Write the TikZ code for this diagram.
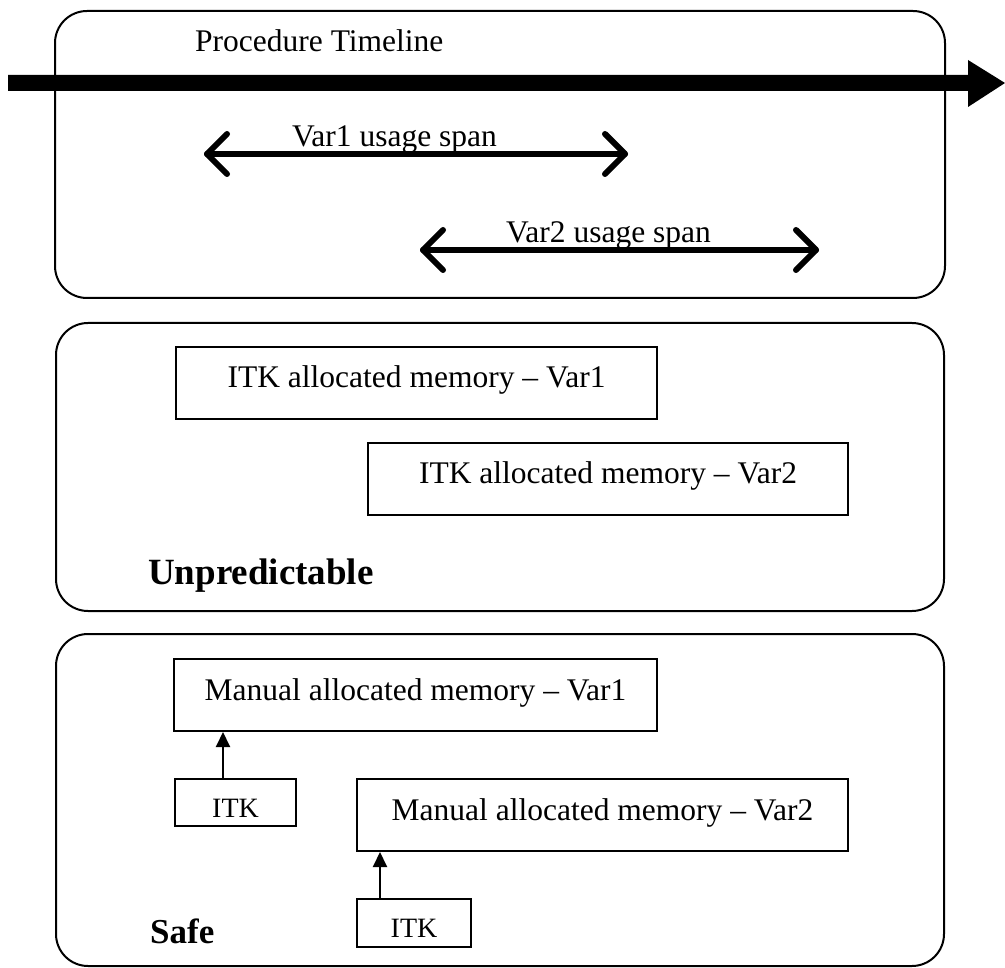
\documentclass[tikz,border=0pt]{standalone}
\usepackage{fontspec}
\setmainfont{Liberation Serif}
\usetikzlibrary{arrows.meta,calc}
\begin{document}
\begin{tikzpicture}[x=1pt,y=-1pt,
 container/.style={draw, line width=2pt, rounded corners=32pt, inner sep=0pt},
 membox/.style={draw, line width=2pt, inner sep=0pt, font=\fontsize{31.5}{36}\selectfont, text height=22pt, text depth=12pt},
 itkbox/.style={draw, line width=2pt, inner sep=0pt, font=\fontsize{28}{32}\selectfont, text height=29pt, text depth=0pt},
 lbl/.style={inner sep=0pt, anchor=base west, font=\fontsize{31.5}{36}\selectfont},
 biglbl/.style={inner sep=0pt, anchor=base west, font=\fontsize{37}{42}\selectfont\bfseries},
 spanline/.style={line width=6pt, line cap=round, line join=round},
 uparrow/.style={line width=2pt, -{Triangle[length=15pt,width=14pt]}},
]
\useasboundingbox (0,0) rectangle (1005,968);
\fill[white] (0,0) rectangle (1005,968);

% containers
\node[container, minimum width=890pt, minimum height=287pt] (topbox) at (500,154.5) {};
\node[container, minimum width=888pt, minimum height=288pt] (midbox) at (500,467) {};
\node[container, minimum width=888pt, minimum height=332pt] (botbox) at (500,800) {};

% timeline
\coordinate (tl0) at (8,83);
\coordinate (tl1) at (1005,83);
\fill (tl0) ++(0,-8) -- (968,75) -- (968,60) -- (tl1) -- (968,107) -- (968,91) -- ($(tl0)+(0,8)$) -- cycle;
\node[lbl] (proc) at (195,52) {Procedure Timeline};

% usage spans
\coordinate (v1l) at (207,154);
\coordinate (v1r) at (625,154);
\draw[spanline] (v1l) -- (v1r);
\draw[spanline] ($(v1l)+(20,-20)$) -- (v1l) -- ($(v1l)+(20,20)$);
\draw[spanline] ($(v1r)+(-20,-20)$) -- (v1r) -- ($(v1r)+(-20,20)$);
\node[lbl] (v1lab) at (292,147) {Var1 usage span};

\coordinate (v2l) at (423,250);
\coordinate (v2r) at (816,250);
\draw[spanline] (v2l) -- (v2r);
\draw[spanline] ($(v2l)+(20,-20)$) -- (v2l) -- ($(v2l)+(20,20)$);
\draw[spanline] ($(v2r)+(-20,-20)$) -- (v2r) -- ($(v2r)+(-20,20)$);
\node[lbl] (v2lab) at (506,243) {Var2 usage span};

% unpredictable
\node[membox, minimum width=481pt, minimum height=72pt] (itkv1) at (416.5,383) {ITK allocated memory – Var1};
\node[membox, minimum width=480pt, minimum height=72pt] (itkv2) at (608,479) {ITK allocated memory – Var2};
\node[biglbl] (unp) at (148,584) {Unpredictable};

% safe
\node[membox, minimum width=483pt, minimum height=72pt] (man1) at (415.5,695) {Manual allocated memory – Var1};
\node[membox, minimum width=491pt, minimum height=72pt] (man2) at (602.5,815) {Manual allocated memory – Var2};
\node[itkbox, minimum width=121pt, minimum height=47pt] (itk1) at (235.5,802.5) {ITK};
\node[itkbox, minimum width=114pt, minimum height=48pt] (itk2) at (414,923) {ITK};
\node[biglbl, font=\fontsize{35}{40}\selectfont\bfseries] (safe) at (150,943) {Safe};

\coordinate (a1) at (223,0);
\coordinate (a2) at (380,0);
\draw[uparrow] (itk1.north -| a1) -- (man1.south -| a1);
\draw[uparrow] (itk2.north -| a2) -- (man2.south -| a2);
\end{tikzpicture}
\end{document}
